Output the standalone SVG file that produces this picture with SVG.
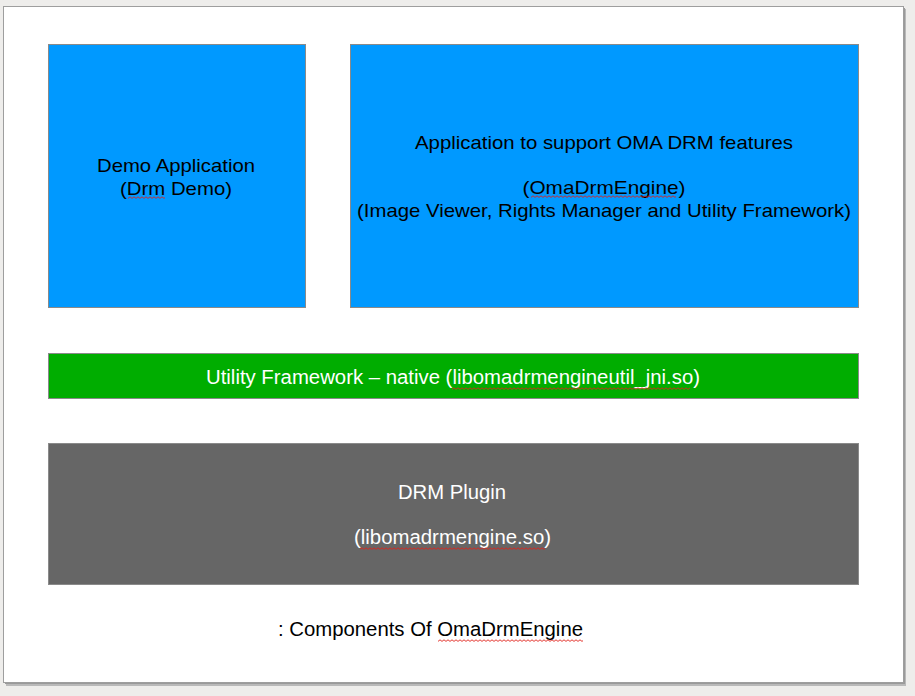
<svg xmlns="http://www.w3.org/2000/svg" width="915" height="696" viewBox="0 0 915 696">
<style>
.box{stroke:#8a8a8a;stroke-width:1}
.t{font-family:"Liberation Sans",Arial,sans-serif;font-size:19px;text-anchor:middle}
.w{fill:#ffffff;font-size:20px}
.k{fill:#000000}
.sq{fill:url(#wave)}
</style>
<defs>
<pattern id="wave" patternUnits="userSpaceOnUse" x="0" y="0" width="4" height="3">
<path d="M0 2.4 L2 0.8 L4 2.4" fill="none" stroke="#e0201a" stroke-width="0.9"/>
</pattern>
</defs>
<rect x="0" y="0" width="915" height="696" fill="#eeedeb"/>
<rect x="6" y="9" width="900" height="677" fill="#b9b9b9"/>
<rect x="5" y="8" width="900" height="676" fill="#9a9a9a"/>
<rect x="3.5" y="6.5" width="900" height="676" fill="#ffffff" stroke="#9e9e9e" stroke-width="1"/>
<g id="demo-app">
<rect class="box" x="48.5" y="44.5" width="257" height="263" fill="#0099ff"/>
<text class="t k" x="176" y="172" textLength="158" lengthAdjust="spacingAndGlyphs">Demo Application</text>
<text class="t k" x="176" y="195" textLength="112" lengthAdjust="spacingAndGlyphs">(Drm Demo)</text>
<rect class="sq" transform="translate(128,196)" width="37" height="3"/>
</g>
<g id="oma-app">
<rect class="box" x="350.5" y="44.5" width="508" height="263" fill="#0099ff"/>
<text class="t k" x="604" y="149" textLength="378" lengthAdjust="spacingAndGlyphs">Application to support OMA DRM features</text>
<text class="t k" x="604" y="194" textLength="163" lengthAdjust="spacingAndGlyphs">(OmaDrmEngine)</text>
<text class="t k" x="604" y="217" textLength="494" lengthAdjust="spacingAndGlyphs">(Image Viewer, Rights Manager and Utility Framework)</text>
<rect class="sq" transform="translate(531,195)" width="145" height="3"/>
</g>
<g id="utility-framework">
<rect class="box" x="48.5" y="353.5" width="810" height="45" fill="#00ad00"/>
<text class="t w" x="453" y="384" textLength="494" lengthAdjust="spacingAndGlyphs">Utility Framework – native (libomadrmengineutil_jni.so)</text>
<rect class="sq" transform="translate(452,387)" width="238" height="3"/>
</g>
<g id="drm-plugin">
<rect class="box" x="48.5" y="443.5" width="810" height="141" fill="#666666"/>
<text class="t w" x="452" y="499" textLength="108" lengthAdjust="spacingAndGlyphs">DRM Plugin</text>
<text class="t w" x="452.5" y="544" textLength="197" lengthAdjust="spacingAndGlyphs">(libomadrmengine.so)</text>
<rect class="sq" transform="translate(360,547)" width="185" height="3"/>
</g>
<g id="caption">
<text class="t k" x="430.5" y="636" style="font-size:20px" textLength="305" lengthAdjust="spacingAndGlyphs">: Components Of OmaDrmEngine</text>
<rect class="sq" transform="translate(438,639)" width="145" height="3"/>
</g>
<g id="connectors"/>
</svg>
